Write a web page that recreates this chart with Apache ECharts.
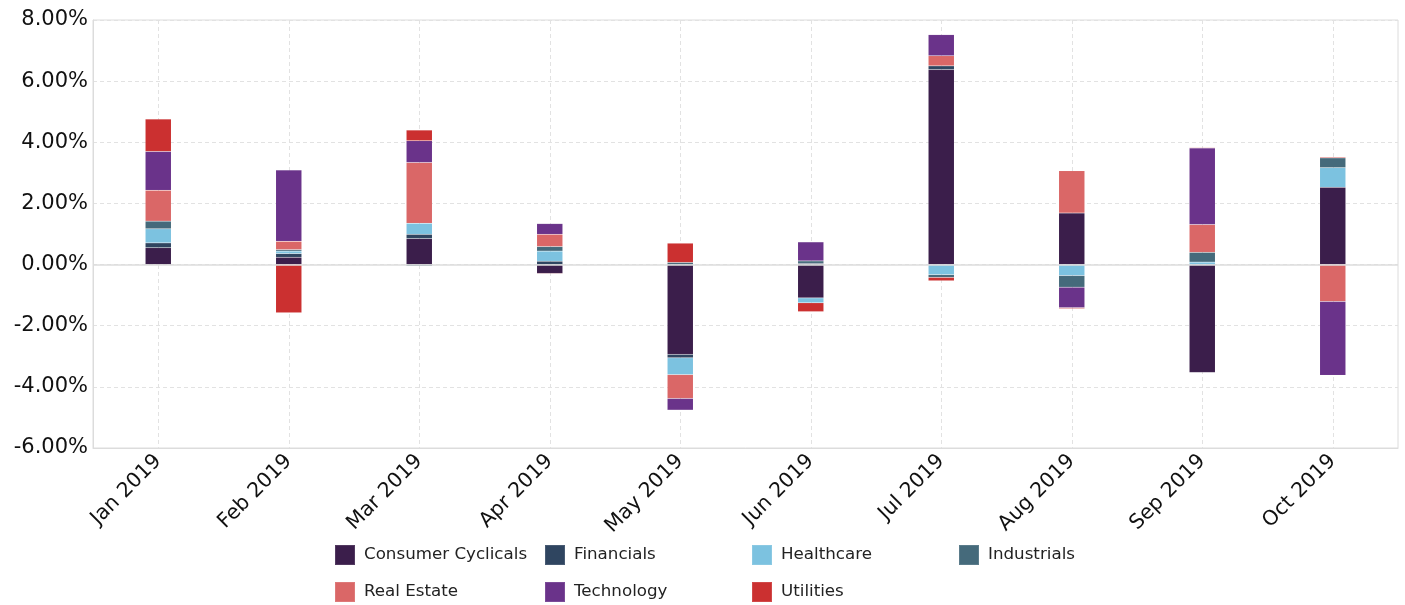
<!DOCTYPE html>
<html>
<head>
<meta charset="utf-8">
<script src="https://cdn.jsdelivr.net/npm/echarts@6/dist/echarts.min.js"></script>
<style>html,body{margin:0;padding:0;background:#fff;}#c{width:1405px;height:605px;}</style>
</head>
<body>
<div id="c"></div>
<script>
const categories = ['Jan 2019','Feb 2019','Mar 2019','Apr 2019','May 2019','Jun 2019','Jul 2019','Aug 2019','Sep 2019','Oct 2019'];
const consumerCyclicals = [0.55, 0.24, 0.85, -0.29, -2.94, -1.09, 6.38, 1.69, -3.53, 2.53];
const financials       = [0.16, 0.12, 0.14, 0.11, -0.11, 0.04, 0.12, 0, 0, 0];
const healthcare       = [0.46, 0.08, 0.36, 0.33, -0.55, -0.16, -0.33, -0.36, 0.08, 0.64];
const industrials      = [0.25, 0.05, -0.05, 0.15, 0.07, 0.08, -0.09, -0.38, 0.32, 0.32];
const realEstate       = [1.01, 0.27, 1.99, 0.40, -0.78, 0, 0.33, 1.38, 0.91, -1.21];
const technology       = [1.27, 2.33, 0.71, 0.35, -0.38, 0.62, 0.69, -0.67, 2.50, -2.41];
const utilities        = [1.06, -1.58, 0.35, -0.02, 0.63, -0.29, -0.11, -0.03, 0.02, 0.03];
const yTicks = {min: -6, max: 8, interval: 2};

const seriesNames = ['Consumer Cyclicals','Financials','Healthcare','Industrials','Real Estate','Technology','Utilities'];
const seriesData = [consumerCyclicals, financials, healthcare, industrials, realEstate, technology, utilities];
const colors = ['#3b1e4b','#2f4560','#7cc2e0','#456a7b','#da6767','#6a338a','#cb3030'];

const font = 'DejaVu Sans';
const chart = echarts.init(document.getElementById('c'), null, {renderer: 'canvas'});

const colLefts = [334, 544, 751, 958];
const rowTops = [544, 581];

chart.setOption({
  animation: false,
  backgroundColor: '#fff',
  color: colors,
  textStyle: {fontFamily: font},
  grid: {left: 93, right: 7, top: 20, bottom: 157, show: true, borderColor: '#dcdcdc', borderWidth: 1, containLabel: false},
  legend: seriesNames.map((n, i) => ({
    data: [n],
    orient: 'horizontal',
    left: colLefts[i % 4],
    top: rowTops[Math.floor(i / 4)],
    padding: 0,
    itemWidth: 20,
    itemHeight: 20,
    icon: 'rect',
    textStyle: {fontFamily: font, fontSize: 16.7, color: '#222', padding: [0,0,0,4]},
    selectedMode: false
  })),
  xAxis: {
    type: 'category',
    data: categories,
    axisLine: {show: true, onZero: false, lineStyle: {color: '#dcdcdc'}},
    axisTick: {show: false, alignWithLabel: true},
    splitLine: {show: true, alignWithLabel: true, lineStyle: {color: '#e2e2e2', type: [4, 3]}},
    axisLabel: {rotate: 45, fontFamily: font, fontSize: 20.5, color: '#111', margin: 10, interval: 0}
  },
  yAxis: {
    type: 'value',
    min: yTicks.min, max: yTicks.max, interval: yTicks.interval,
    axisLine: {show: true, lineStyle: {color: '#dcdcdc'}},
    axisTick: {show: false},
    splitLine: {show: true, lineStyle: {color: '#e2e2e2', type: [4, 3]}},
    axisLabel: {fontFamily: font, fontSize: 21, color: '#111', margin: 5, formatter: v => v.toFixed(2) + '%'}
  },
  series: seriesNames.map((n, i) => ({
    name: n,
    type: 'bar',
    stack: 'total',
    barWidth: 26,
    data: seriesData[i],
    itemStyle: {color: colors[i], borderColor: 'rgba(255,255,255,0.12)', borderWidth: 0.5},
    emphasis: {disabled: true}
  })).concat([{
    type: 'line', data: [], markLine: {silent: true, symbol: 'none', label: {show: false},
      lineStyle: {color: '#dcdcdc', type: 'solid', width: 1.5}, data: [{yAxis: 0}]}
  }])
});
</script>
</body>
</html>
